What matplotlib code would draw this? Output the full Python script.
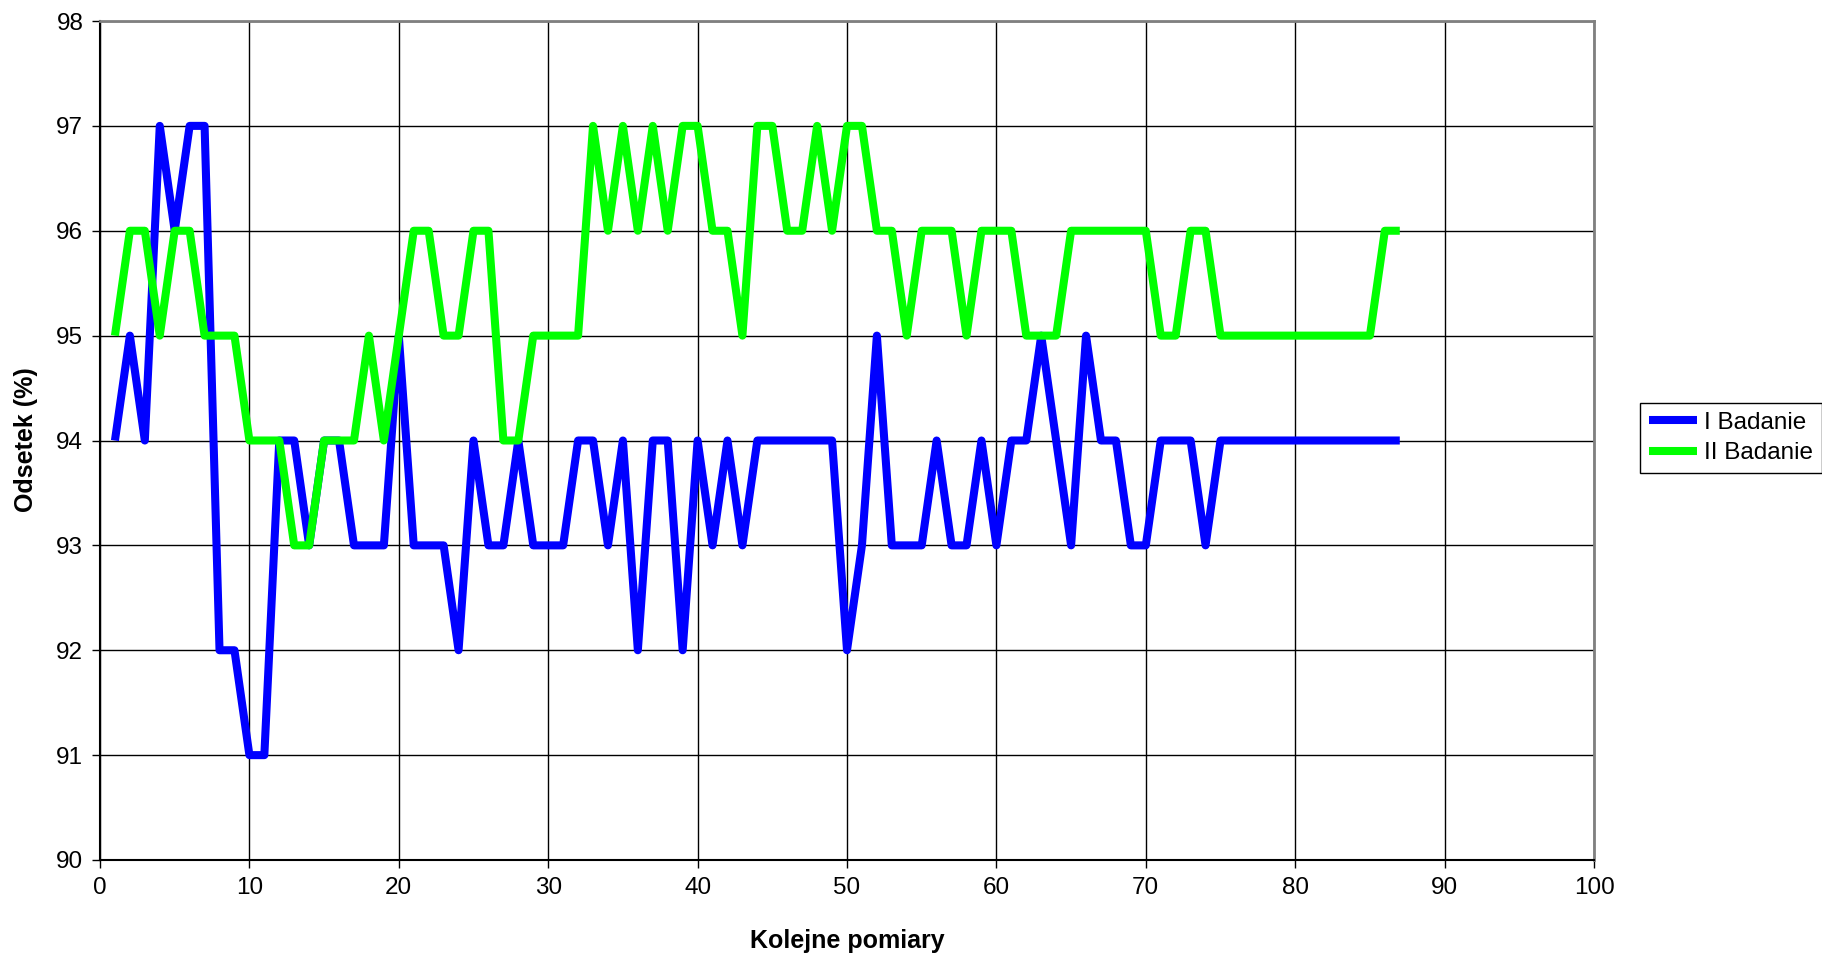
import numpy as np
import matplotlib.pyplot as plt

plt.rcParams['font.family'] = ['Liberation Sans', 'DejaVu Sans']

# kolejne pomiary 1..87
pomiary = list(range(1, 88))

badanie_1 = [94, 95, 94, 97, 96, 97, 97, 92, 92, 91,
             91, 94, 94, 93, 94, 94, 93, 93, 93, 95,
             93, 93, 93, 92, 94, 93, 93, 94, 93, 93,
             93, 94, 94, 93, 94, 92, 94, 94, 92, 94,
             93, 94, 93, 94, 94, 94, 94, 94, 94, 92,
             93, 95, 93, 93, 93, 94, 93, 93, 94, 93,
             94, 94, 95, 94, 93, 95, 94, 94, 93, 93,
             94, 94, 94, 93, 94, 94, 94, 94, 94, 94,
             94, 94, 94, 94, 94, 94, 94]

badanie_2 = [95, 96, 96, 95, 96, 96, 95, 95, 95, 94,
             94, 94, 93, 93, 94, 94, 94, 95, 94, 95,
             96, 96, 95, 95, 96, 96, 94, 94, 95, 95,
             95, 95, 97, 96, 97, 96, 97, 96, 97, 97,
             96, 96, 95, 97, 97, 96, 96, 97, 96, 97,
             97, 96, 96, 95, 96, 96, 96, 95, 96, 96,
             96, 95, 95, 95, 96, 96, 96, 96, 96, 96,
             95, 95, 96, 96, 95, 95, 95, 95, 95, 95,
             95, 95, 95, 95, 95, 96, 96]

labels = ['I Badanie', 'II Badanie']
colors = ['#0000FF', '#00FF00']

W, H = 1822, 956
fig = plt.figure(figsize=(W / 100, H / 100), dpi=100)
ax = fig.add_axes([100 / W, 1 - 860 / H, (1594 - 100) / W, (860 - 21) / H])

ax.plot(pomiary, badanie_1, color=colors[0], lw=5.8, label=labels[0],
        solid_joinstyle='round', solid_capstyle='butt')
ax.plot(pomiary, badanie_2, color=colors[1], lw=5.8, label=labels[1],
        solid_joinstyle='round', solid_capstyle='butt')

ax.set_xlim(0, 100)
ax.set_ylim(90, 98)
ax.set_xticks(np.arange(0, 101, 10))
ax.set_yticks(np.arange(90, 99, 1))
ax.grid(True, color='black', lw=1)
ax.set_axisbelow(True)
ax.tick_params(labelsize=17.5, direction='out', length=6, width=1, pad=6)

for s in ['top', 'right']:
    ax.spines[s].set_color('#808080')
    ax.spines[s].set_linewidth(2)
for s in ['left', 'bottom']:
    ax.spines[s].set_color('black')
    ax.spines[s].set_linewidth(1.5)

fig.text(26 / W, 1 - 440 / H, 'Odsetek (%)', rotation=90, fontsize=18,
         fontweight='bold', ha='center', va='center')
fig.text(847 / W, 1 - 941 / H, 'Kolejne pomiary', fontsize=18,
         fontweight='bold', ha='center', va='center')

leg = fig.legend(loc='upper left', bbox_to_anchor=(1640 / W, 1 - 403 / H),
                 fontsize=17.5, fancybox=False, edgecolor='black', framealpha=1,
                 borderaxespad=0, handlelength=2.0, handletextpad=0.3,
                 borderpad=0.35, labelspacing=0.35)
leg.get_frame().set_linewidth(1)

fig.savefig('out.png', dpi=100)
